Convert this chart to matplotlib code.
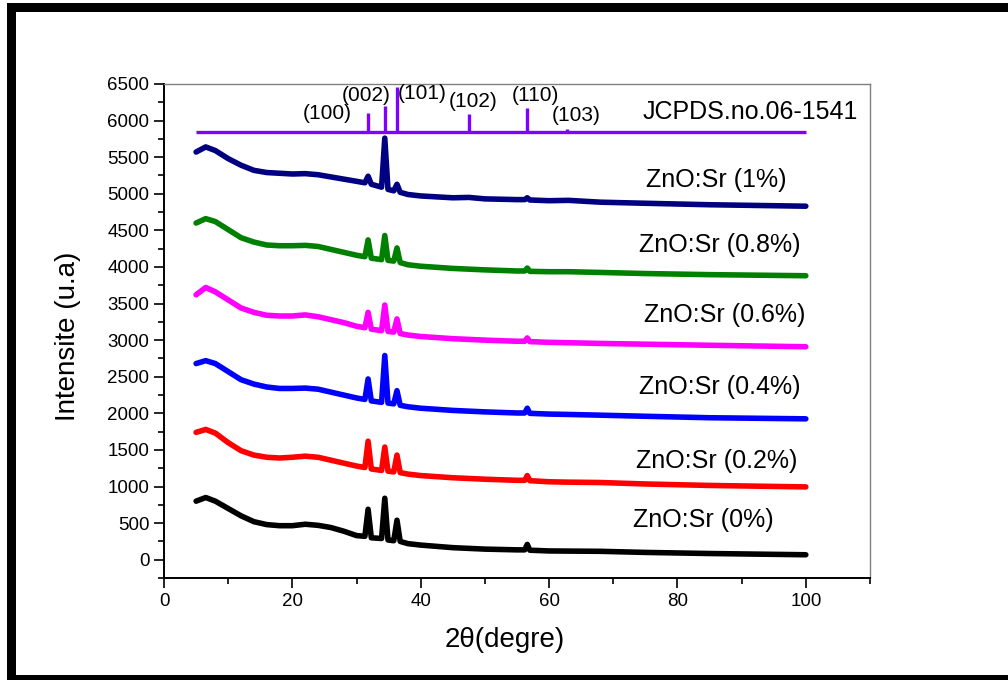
import matplotlib
matplotlib.use("Agg")
import matplotlib.pyplot as plt
from matplotlib.patches import Rectangle
from matplotlib.ticker import MultipleLocator

plt.rcParams['font.family'] = ['Liberation Sans', 'DejaVu Sans']

# 2-theta sampling (degrees)
two_theta = [5, 6.5, 8, 10, 12, 14, 16, 18, 20, 22, 24, 26, 28, 30, 31.3, 31.8, 32.3,
             33.9, 34.4, 34.9, 35.8, 36.3, 36.8, 38, 40, 45, 47.5, 50, 55, 56.2, 56.6,
             57.0, 60, 63, 68, 75, 85, 100]

sr_0 = [800, 850, 800, 700, 600, 520, 480, 465, 465, 485, 470, 440, 390, 330, 320, 690, 300,
        290, 840, 270, 260, 540, 250, 220, 200, 165, 155, 145, 135, 135, 210,
        130, 120, 118, 115, 100, 85, 68]
sr_02 = [1740, 1780, 1730, 1600, 1490, 1430, 1400, 1390, 1400, 1415, 1400, 1360, 1320, 1280, 1260, 1620, 1240,
         1220, 1540, 1210, 1200, 1430, 1190, 1170, 1150, 1120, 1110, 1100, 1085, 1085, 1150,
         1080, 1065, 1060, 1055, 1035, 1015, 995]
sr_04 = [2680, 2720, 2680, 2570, 2460, 2400, 2360, 2340, 2340, 2345, 2330, 2290, 2250, 2210, 2190, 2470, 2170,
         2150, 2790, 2140, 2130, 2310, 2110, 2090, 2070, 2040, 2030, 2020, 2005, 2005, 2070,
         2000, 1990, 1985, 1975, 1960, 1940, 1925]
sr_06 = [3620, 3720, 3660, 3550, 3440, 3380, 3340, 3330, 3330, 3345, 3320, 3280, 3240, 3190, 3170, 3380, 3150,
         3130, 3480, 3120, 3110, 3290, 3090, 3070, 3050, 3020, 3010, 3000, 2985, 2985, 3030,
         2980, 2970, 2965, 2955, 2945, 2930, 2910]
sr_08 = [4600, 4660, 4620, 4510, 4400, 4340, 4300, 4290, 4290, 4295, 4280, 4240, 4200, 4160, 4140, 4370, 4120,
         4100, 4430, 4090, 4080, 4260, 4060, 4030, 4010, 3980, 3970, 3960, 3945, 3945, 3985,
         3940, 3935, 3935, 3925, 3910, 3895, 3880]
sr_1 = [5570, 5640, 5590, 5480, 5390, 5320, 5290, 5280, 5270, 5275, 5260, 5230, 5200, 5170, 5150, 5240, 5130,
        5090, 5760, 5060, 5040, 5130, 5020, 4990, 4970, 4945, 4950, 4930, 4920, 4920, 4945,
        4915, 4905, 4910, 4885, 4870, 4850, 4830]

series_labels = ["ZnO:Sr (0%)", "ZnO:Sr (0.2%)", "ZnO:Sr (0.4%)", "ZnO:Sr (0.6%)",
                 "ZnO:Sr (0.8%)", "ZnO:Sr (1%)"]
series_colors = ["#000000", "#FF0000", "#0000FF", "#FF00FF", "#008000", "#000080"]
label_x = [84.1, 86.1, 86.6, 87.3, 86.6, 86.0]
label_y = [546, 1352, 2362, 3345, 4300, 5190]

# JCPDS 06-1541 reference
jcpds_base = 5850
jcpds_pos = [31.77, 34.42, 36.25, 47.54, 56.60, 62.86]
jcpds_height = [258, 350, 615, 236, 327, 35]
hkl = ["(100)", "(002)", "(101)", "(102)", "(110)", "(103)"]
hkl_x = [25.4, 31.5, 40.3, 48.1, 57.8, 64.2]
hkl_y = [6100, 6337, 6365, 6260, 6337, 6064]

fig = plt.figure(figsize=(10.08, 6.81), dpi=100)
ax = fig.add_axes([0.1627, 0.1512, 0.7004, 0.7255])

all_series = [sr_0, sr_02, sr_04, sr_06, sr_08, sr_1]
for ys, c in zip(all_series, series_colors):
    ax.plot(two_theta, ys, color=c, lw=4.0, solid_joinstyle='round', solid_capstyle='round')

for lab, c, lx, ly in zip(series_labels, series_colors, label_x, label_y):
    ax.text(lx, ly, lab, fontsize=18, ha='center', va='center', color='black')

purple = "#8000FF"
ax.plot([5, 100], [jcpds_base, jcpds_base], color=purple, lw=2.4, solid_capstyle='butt')
for p, h in zip(jcpds_pos, jcpds_height):
    ax.plot([p, p], [jcpds_base, jcpds_base + h], color=purple, lw=2.4, solid_capstyle='butt')
for t, hx, hy in zip(hkl, hkl_x, hkl_y):
    ax.text(hx, hy, t, fontsize=15, ha='center', va='center')
ax.text(91.3, 6118, "JCPDS.no.06-1541", fontsize=18, ha='center', va='center')

ax.set_xlim(0, 110)
ax.set_ylim(-250, 6500)
ax.xaxis.set_major_locator(MultipleLocator(20))
ax.xaxis.set_minor_locator(MultipleLocator(10))
ax.yaxis.set_major_locator(MultipleLocator(500))
ax.yaxis.set_minor_locator(MultipleLocator(250))
ax.set_xticks([0, 20, 40, 60, 80, 100])
ax.tick_params(which='major', direction='out', length=7, width=1.2, labelsize=13.5,
               top=False, right=False)
ax.tick_params(which='minor', direction='out', length=4, width=1.2, top=False, right=False)
for s in ['left', 'bottom']:
    ax.spines[s].set_linewidth(1.4)
    ax.spines[s].set_color('black')
for s in ['top', 'right']:
    ax.spines[s].set_linewidth(1.0)
    ax.spines[s].set_color('#808080')

ax.set_xlabel("2θ(degre)", fontsize=20)
ax.set_ylabel("Intensite (u.a)", fontsize=20)
ax.xaxis.set_label_coords(0.483, -0.10)
ax.yaxis.set_label_coords(-0.118, 0.49)

# outer black frame
fig.add_artist(Rectangle((7/1008, 1-12/681), 1 - 7/1008, 9/681, transform=fig.transFigure,
                         facecolor='black', edgecolor='none'))
fig.add_artist(Rectangle((7/1008, 1-680/681), 9/1008, 677/681, transform=fig.transFigure,
                         facecolor='black', edgecolor='none'))
fig.add_artist(Rectangle((7/1008, 1-680/681), 1 - 7/1008, 5/681, transform=fig.transFigure,
                         facecolor='black', edgecolor='none'))

fig.savefig("out.png", dpi=100)
